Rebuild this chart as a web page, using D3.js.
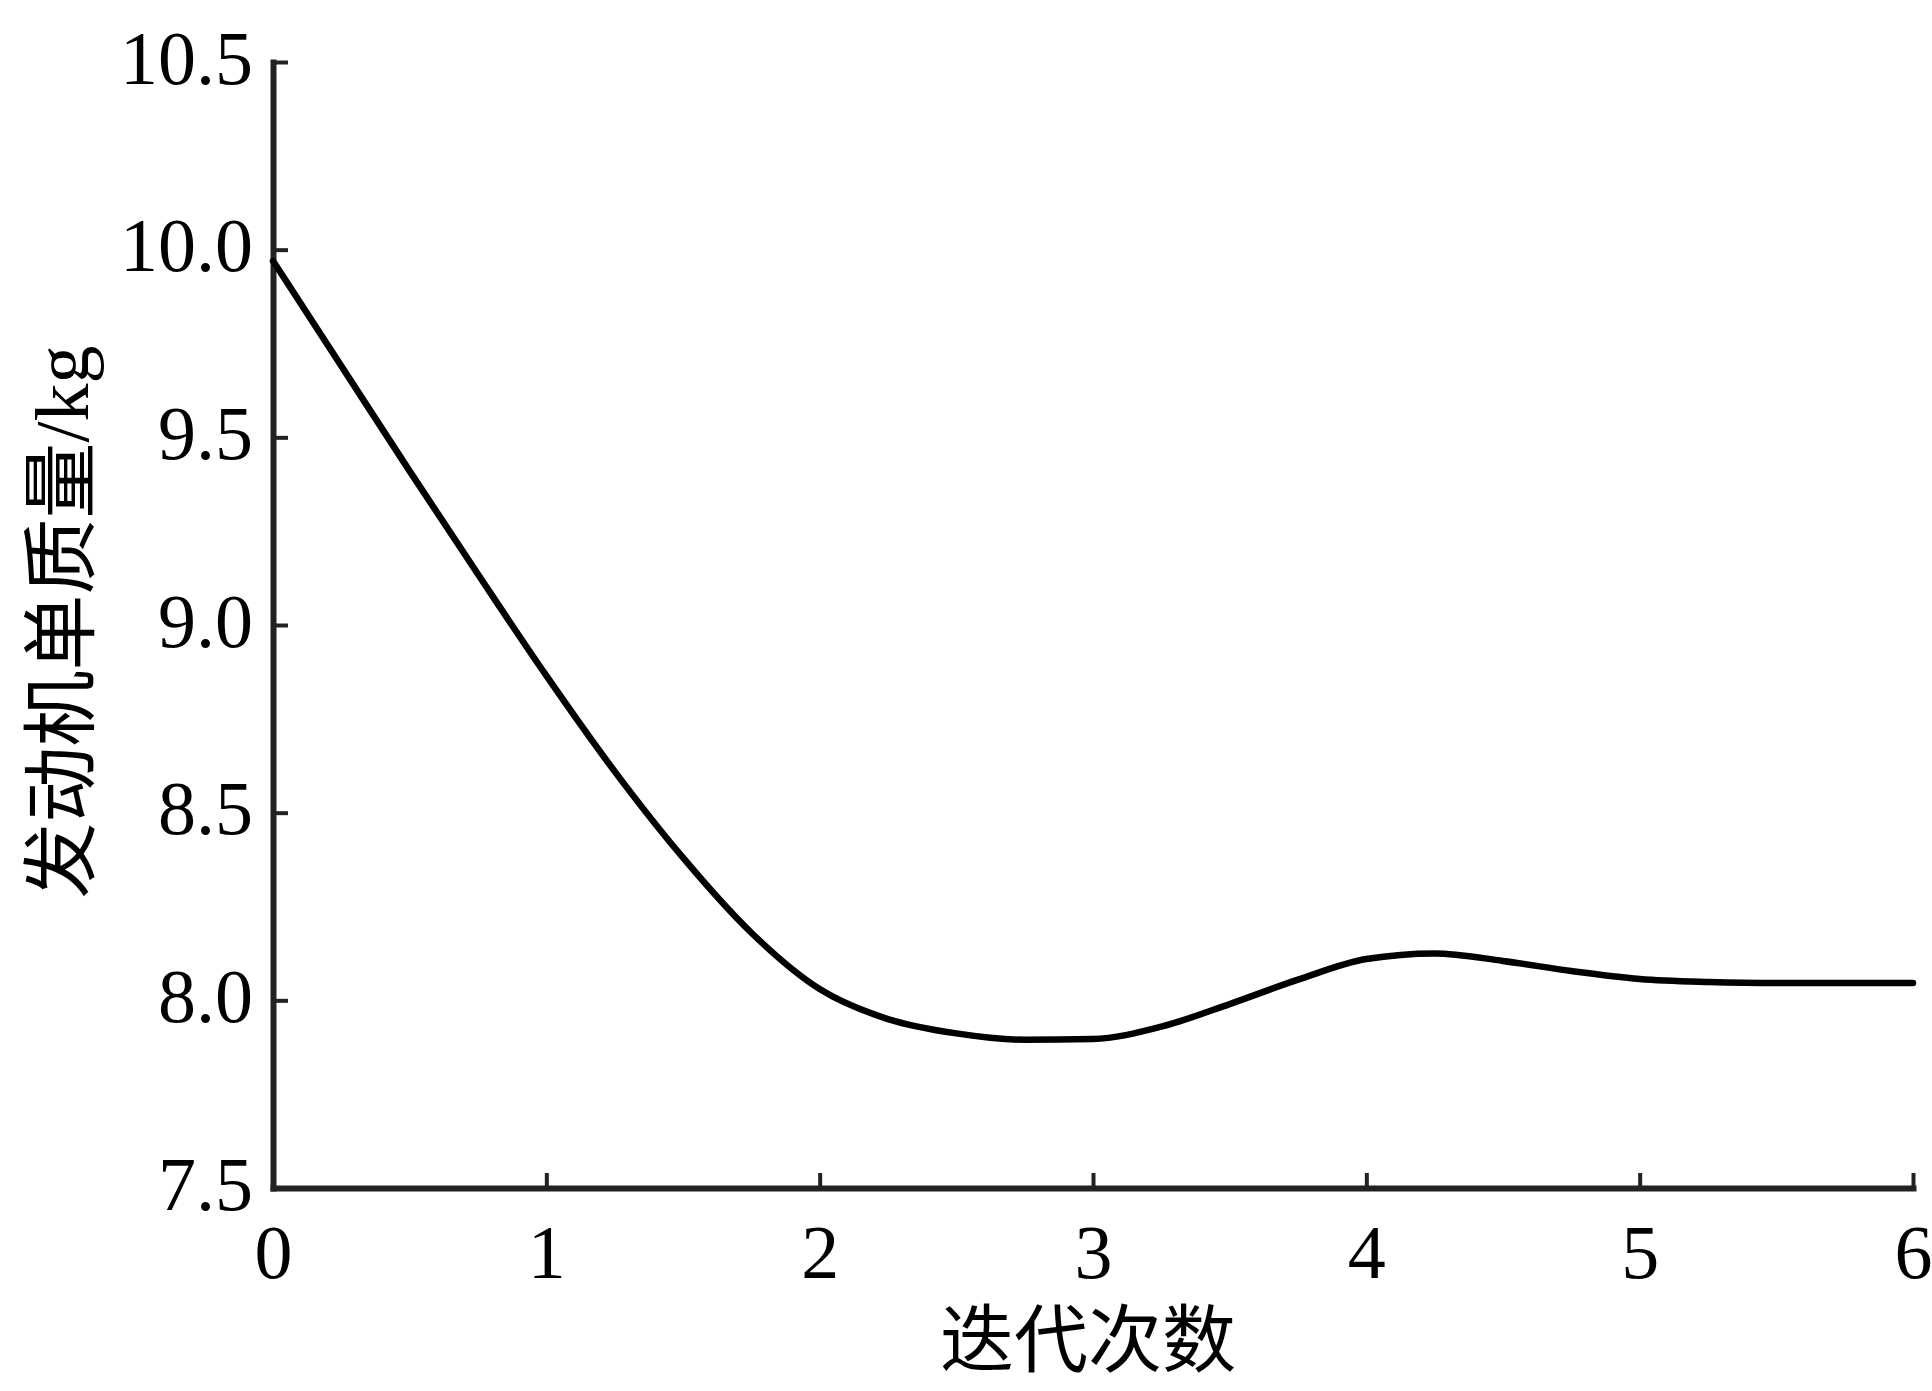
<!DOCTYPE html>
<html lang="zh">

<head>
  <meta charset="UTF-8">
  <title>发动机单质量迭代曲线</title>
  <script src="https://d3js.org/d3.v7.min.js"></script>
  <style>
    body { margin: 0; background: #fff; }
    .tick text { font-family: "Liberation Serif", "Times New Roman", serif; font-size: 76px; fill: #000; }
  </style>
</head>

<body>

  <script>
    // values
    const iterations = [0, 0.25, 0.5, 0.75, 1.0, 1.25, 1.5, 1.75, 2.0, 2.25, 2.5, 2.75, 3.0,
      3.25, 3.5, 3.75, 4.0, 4.25, 4.5, 4.75, 5.0, 5.25, 5.5, 5.75, 6.0];
    const mass = [9.97, 9.69, 9.41, 9.135, 8.865, 8.61, 8.38, 8.18, 8.03, 7.95, 7.912, 7.895, 7.897,
      7.93, 7.99, 8.055, 8.11, 8.125, 8.105, 8.078, 8.057, 8.049, 8.046, 8.046, 8.046];
    const xTicks = [0, 1, 2, 3, 4, 5, 6];
    const yTicks = [7.5, 8.0, 8.5, 9.0, 9.5, 10.0, 10.5];

    const totalW = 1932, totalH = 1391;
    const margin = { top: 62, right: 19, bottom: 203, left: 273 };
    const width = totalW - margin.left - margin.right;
    const height = totalH - margin.top - margin.bottom;

    const svg = d3.select('body')
      .append('svg')
      .attr('width', totalW)
      .attr('height', totalH);

    const g = svg.append('g')
      .attr('transform', `translate(${margin.left},${margin.top})`);

    const x = d3.scaleLinear().domain([0, 6]).range([0, width]);
    const y = d3.scaleLinear().domain([7.5, 10.5]).range([height, 0]);

    // axes, ticks point inward
    const xAxis = g.append('g')
      .attr('transform', `translate(0,${height})`)
      .call(d3.axisBottom(x).tickValues(xTicks).tickFormat(d3.format('d'))
        .tickSizeInner(-15).tickSizeOuter(0).tickPadding(36));

    const yAxis = g.append('g')
      .call(d3.axisLeft(y).tickValues(yTicks).tickFormat(d3.format('.1f'))
        .tickSizeInner(-15).tickSizeOuter(0).tickPadding(20));

    yAxis.selectAll('.tick text').attr('dy', '0.28em');

    [xAxis, yAxis].forEach(a => {
      a.select('.domain').attr('stroke', '#222').attr('stroke-width', 6).attr('stroke-linecap', 'square');
      a.selectAll('.tick line').attr('stroke', '#222').attr('stroke-width', 4);
    });

    // curve
    const line = d3.line()
      .x((d, i) => x(iterations[i]))
      .y(d => y(d))
      .curve(d3.curveMonotoneX);

    g.append('path')
      .datum(mass)
      .attr('fill', 'none')
      .attr('stroke', '#000')
      .attr('stroke-width', 6.5)
      .attr('stroke-linejoin', 'round')
      .attr('stroke-linecap', 'round')
      .attr('d', line);

    // axis titles
    svg.append('text')
      .attr('x', margin.left + width / 2 - 5)
      .attr('y', 1366)
      .attr('text-anchor', 'middle')
      .style('font-family', '"Noto Sans CJK SC", sans-serif')
      .style('font-size', '74px')
      .text('迭代次数');

    const yTitle = svg.append('text')
      .attr('transform', `translate(88,${margin.top + height / 2 - 3}) rotate(-90)`)
      .attr('text-anchor', 'middle')
      .style('font-family', '"Noto Sans CJK SC", sans-serif')
      .style('font-size', '76px');
    yTitle.append('tspan').text('发动机单质量');
    yTitle.append('tspan')
      .style('font-family', '"Liberation Serif", serif')
      .text('/kg');
  </script>

</body>

</html>
